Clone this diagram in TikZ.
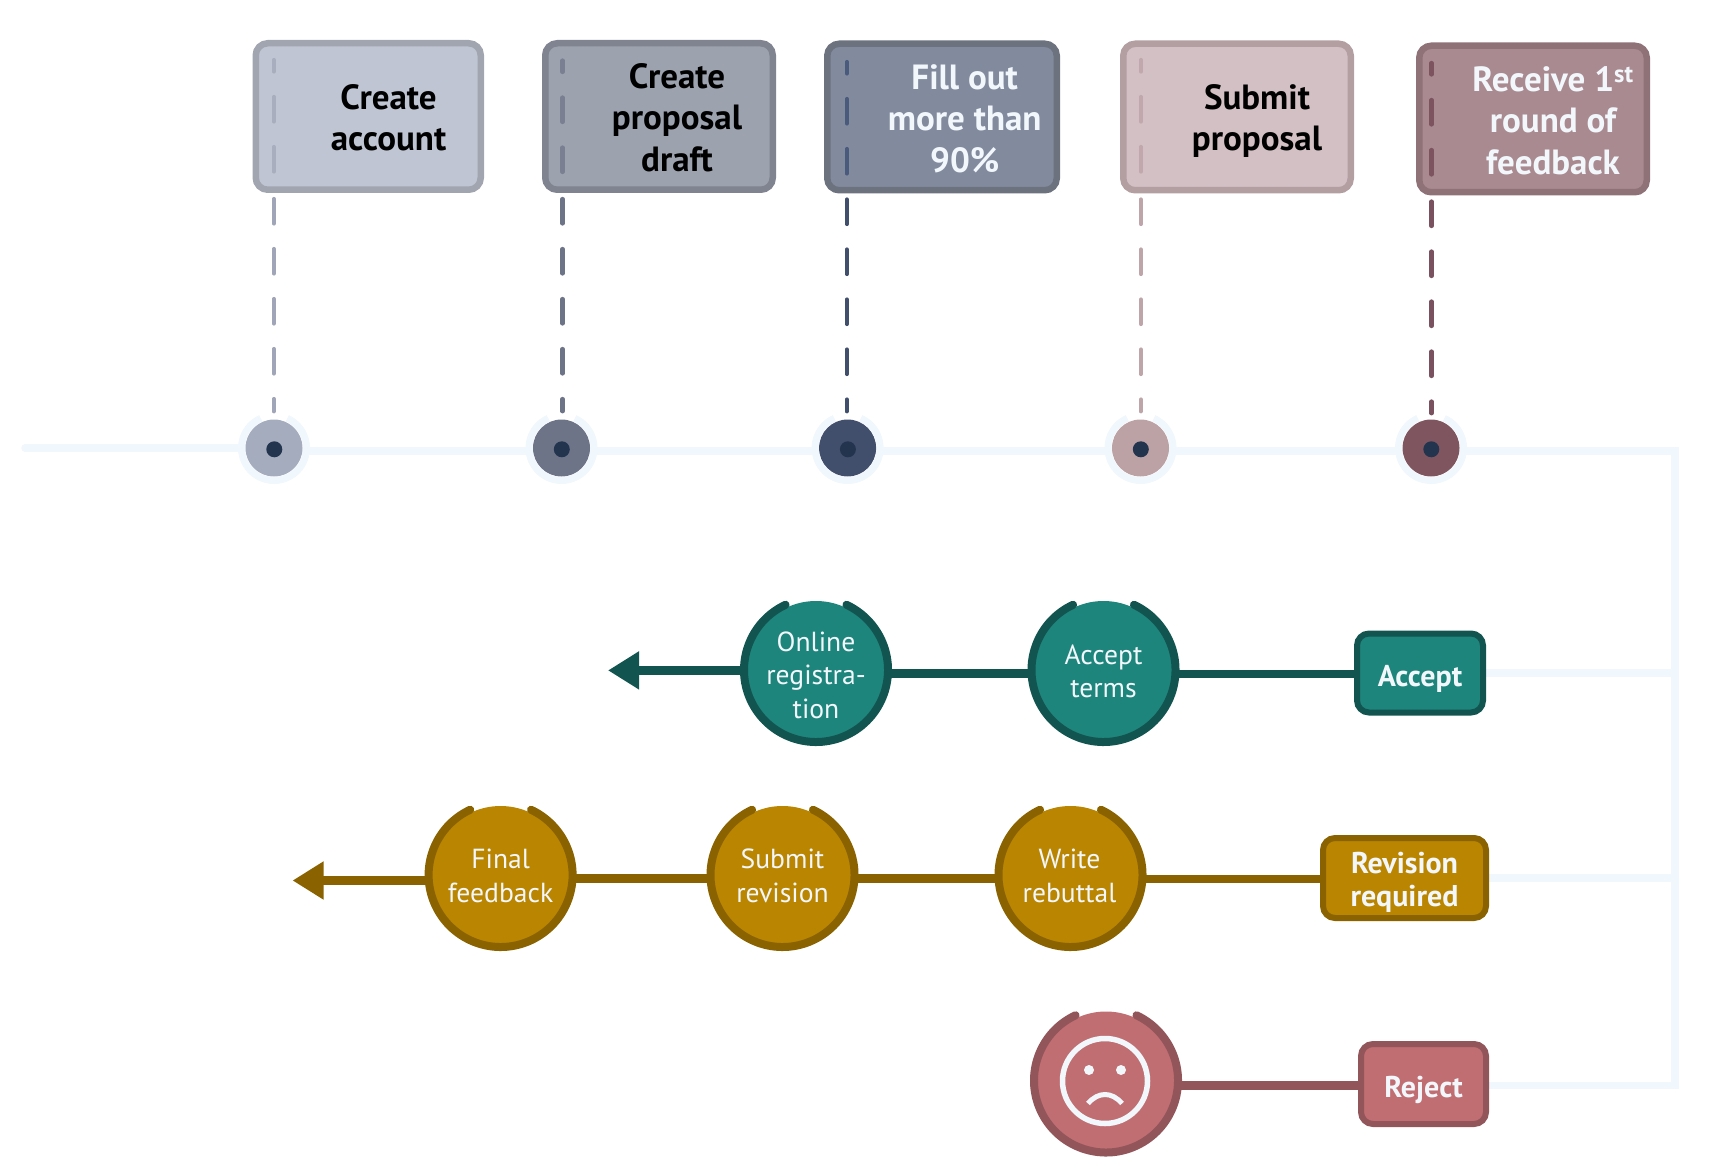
\documentclass[tikz,border=0pt]{standalone}
\usepackage{fontspec}
\setmainfont{PT Sans}
\usetikzlibrary{arrows.meta,backgrounds}
\definecolor{railblue}{HTML}{F0F7FD}
\definecolor{dotblue}{HTML}{23344F}
\definecolor{offwhite}{HTML}{F2F7FB}
\definecolor{tealfill}{HTML}{1D857C}
\definecolor{tealline}{HTML}{12544F}
\definecolor{goldfill}{HTML}{BA8500}
\definecolor{goldline}{HTML}{8A6200}
\definecolor{redfill}{HTML}{C06E72}
\definecolor{redline}{HTML}{91555A}
\definecolor{accountline}{HTML}{A1A5B0}
\definecolor{accountfill}{HTML}{C0C5D3}
\definecolor{accountpale}{HTML}{A9AEBF}
\definecolor{accountdash}{HTML}{A0A6B8}
\definecolor{accounthubc}{HTML}{A5ACBE}
\definecolor{draftline}{HTML}{808390}
\definecolor{draftfill}{HTML}{9CA2AE}
\definecolor{draftpale}{HTML}{7A8092}
\definecolor{drafthubc}{HTML}{6E7488}
\definecolor{fillline}{HTML}{6C727E}
\definecolor{fillfill}{HTML}{828B9E}
\definecolor{fillpale}{HTML}{4A5A7C}
\definecolor{fillhubc}{HTML}{414E6C}
\definecolor{submitline}{HTML}{B39FA2}
\definecolor{submitfill}{HTML}{D3C0C4}
\definecolor{submitpale}{HTML}{C0A8AC}
\definecolor{submitdash}{HTML}{BDA5AA}
\definecolor{submithubc}{HTML}{BDA2A5}
\definecolor{feedbackline}{HTML}{8E7278}
\definecolor{feedbackfill}{HTML}{A98A90}
\definecolor{feedbackpale}{HTML}{7D5360}
\definecolor{feedbackdash}{HTML}{7A515E}
\definecolor{feedbackhubc}{HTML}{7F5660}
\tikzset{
	stepbox/.style 2 args={draw=#1,fill=#2,line width=6.5pt,rounded corners=12pt,minimum width=227.5pt,minimum height=146.5pt,inner sep=0pt},
	steptext/.style={font=\bfseries\fontsize{35}{41.5}\selectfont,align=center,inner sep=0pt},
	guide/.style={draw=#1,line width=4.2pt,line cap=round,dash pattern=on 24.5pt off 25.5pt,dash phase=13pt},
	guidelow/.style={guide=#1,dash phase=44pt},
	hub/.style={circle,fill=#1,minimum size=57pt,inner sep=0pt},
	dot/.style={circle,fill=dotblue,minimum size=16pt,inner sep=0pt},
	rail/.style={draw=railblue,line width=7.5pt},
	flowcirc/.style={circle,fill=#1,minimum size=138pt,inner sep=0pt},
	circtext/.style={text=offwhite,align=center,inner sep=0pt,font=\fontsize{27.6}{33.5}\selectfont},
	flowbox/.style 2 args={draw=#1,fill=#2,line width=6pt,rounded corners=12pt,inner sep=0pt},
	boxtext/.style={text=offwhite,align=center,inner sep=0pt,font=\bfseries\fontsize{30}{33.5}\selectfont},
	flow/.style={draw=#1,line width=8.5pt},
}
\newcommand{\gaparc}[3]{\draw[draw=#2,line width=#3,line cap=round] ([shift={(115:72pt)}]#1.center) arc[start angle=115,end angle=425,radius=72pt];}
\newcommand{\halo}[1]{\draw[railblue,line width=7pt] ([shift={(114:32.5pt)}]#1.center) arc[start angle=114,end angle=426,radius=32.5pt];}

\begin{document}
\begin{tikzpicture}[x=1pt,y=1pt]
	\useasboundingbox (0,0) rectangle (1726,-1174);

	% top row
	\node (accountbox) [stepbox={accountline}{accountfill},minimum width=225pt,label={[steptext,xshift=20.3pt,yshift=-1.5pt]center:{Create\\account}}] at (368.25,-116.5) {};
	\node (draftbox) [stepbox={draftline}{draftfill},label={[steptext,xshift=18pt,yshift=-1pt]center:{Create\\proposal\\draft}}] at (659,-116.5) {};
	\node (fillbox) [stepbox={fillline}{fillfill},minimum width=229.5pt,label={[steptext,text=offwhite,xshift=22.7pt,yshift=-1.5pt]center:{Fill out\\more than\\90\%}}] at (942,-117) {};
	\node (submitbox) [stepbox={submitline}{submitfill},label={[steptext,xshift=20pt,yshift=-4pt]center:{Submit\\proposal}}] at (1237,-117) {};
	\node (feedbackbox) [stepbox={feedbackline}{feedbackfill},label={[steptext,text=offwhite,xshift=20pt,yshift=-1.5pt]center:{Receive 1\textsuperscript{st}\\round of\\feedback}}] at (1533,-119) {};

	\coordinate (accountpin) at (273.8,-60);
	\coordinate (draftpin) at (562.5,-60.5);
	\coordinate (fillpin) at (846.8,-62);
	\coordinate (submitpin) at (1140.8,-60);
	\coordinate (feedbackpin) at (1431.5,-63);

	\node (accounthub) [hub=accounthubc] at (274,-448) {};
	\node (drafthub) [hub=drafthubc] at (561.5,-448) {};
	\node (fillhub) [hub=fillhubc] at (847.6,-448) {};
	\node (submithub) [hub=submithubc] at (1140.5,-448) {};
	\node (feedbackhub) [hub=feedbackhubc] at (1431,-448) {};
	\halo{accounthub}
	\halo{drafthub}
	\halo{fillhub}
	\halo{submithub}
	\halo{feedbackhub}
	\node (accountdot) [dot] at (274.3,-449.3) {};
	\node (draftdot) [dot] at (561.8,-449.3) {};
	\node (filldot) [dot] at (847.9,-449.3) {};
	\node (submitdot) [dot] at (1140.8,-449.3) {};
	\node (feedbackdot) [dot] at (1431.3,-449.3) {};

	% dashes inside the boxes
	\draw[guide=accountpale] (accountpin) -- (accountpin |- accountbox.south);
	\draw[guide=draftpale] (draftpin) -- (draftpin |- draftbox.south);
	\draw[guide=fillpale] (fillpin) -- (fillpin |- fillbox.south);
	\draw[guide=submitpale] (submitpin) -- (submitpin |- submitbox.south);
	\draw[guide=feedbackpale] (feedbackpin) -- (feedbackpin |- feedbackbox.south);
	% dashes below the boxes
	\draw[guidelow=accountdash] (accountpin |- accountbox.south) -- ([yshift=8pt]accountpin |- accounthub.north);
	\draw[guidelow=drafthubc] (draftpin |- draftbox.south) -- ([yshift=8pt]draftpin |- drafthub.north);
	\draw[guidelow=fillhubc] (fillpin |- fillbox.south) -- ([yshift=8pt]fillpin |- fillhub.north);
	\draw[guidelow=submitdash] (submitpin |- submitbox.south) -- ([yshift=8pt]submitpin |- submithub.north);
	\draw[guidelow=feedbackdash] (feedbackpin |- feedbackbox.south) -- ([yshift=6pt]feedbackpin |- feedbackhub.north);

	% flow rows
	\node (acceptbox) [flowbox={tealline}{tealfill},minimum width=126pt,minimum height=79pt,label={[boxtext,yshift=-5.5pt]center:{Accept}}] at (1420,-673) {};
	\node (reviewbox) [flowbox={goldline}{goldfill},minimum width=163pt,minimum height=80pt,label={[boxtext,yshift=-4.5pt]center:{Revision\\required}}] at (1404.5,-878) {};
	\node (rejectbox) [flowbox={redline}{redfill},minimum width=125pt,minimum height=80pt,label={[boxtext,yshift=-5.5pt]center:{Reject}}] at (1423.5,-1084) {};

	\node (terms) [flowcirc=tealfill,label={[circtext,yshift=-1.5pt]center:{Accept\\terms}}] at (1103.5,-670) {};
	\node (online) [flowcirc=tealfill,label={[circtext,yshift=-5pt]center:{Online\\registra-\\tion}}] at (816,-670) {};
	\node (rebuttal) [flowcirc=goldfill,label={[circtext,xshift=-1pt,yshift=-1pt]center:{Write\\rebuttal}}] at (1070.5,-875) {};
	\node (revision) [flowcirc=goldfill,label={[circtext,yshift=-1pt]center:{Submit\\revision}}] at (782.5,-875) {};
	\node (final) [flowcirc=goldfill,label={[circtext,yshift=-1pt]center:{Final\\feedback}}] at (500.6,-875) {};
	\node (sad) [flowcirc=redfill] at (1106,-1080.5) {};
	\gaparc{terms}{tealline}{8pt}
	\gaparc{online}{tealline}{8pt}
	\gaparc{rebuttal}{goldline}{8pt}
	\gaparc{revision}{goldline}{8pt}
	\gaparc{final}{goldline}{8pt}
	\gaparc{sad}{redline}{8pt}

	% sad face
	\draw[offwhite,line width=5.5pt] ([shift={(-1,-0.5)}]sad.center) circle[radius=42.5pt];
	\fill[offwhite] ([shift={(-17,10.5)}]sad.center) circle[radius=5pt];
	\fill[offwhite] ([shift={(15,10.5)}]sad.center) circle[radius=5pt];
	\draw[offwhite,line width=5pt] ([shift={(-18,-23)}]sad.center) .. controls ([shift={(-8,-11)}]sad.center) and ([shift={(6,-11)}]sad.center) .. ([shift={(16,-23)}]sad.center);

	\coordinate (railstart) at (25,-448);
	\coordinate (railcorner) at (1675,-451);
	\coordinate (onlinetip) at (608,-670.4);
	\coordinate (finaltip) at (292.5,-880.5);

	\begin{scope}[on background layer]
		\draw[rail,line cap=round] (railstart) -- (railstart -| accounthub.center);
		\draw[rail] (accounthub.center |- railcorner) -- (railcorner) -- (railcorner |- 0,-1085.7) -- (rejectbox.east |- 0,-1085.7);
		\draw[rail] (acceptbox.east) -- (acceptbox.east -| railcorner);
		\draw[rail] (reviewbox.east) -- (reviewbox.east -| railcorner);

		\draw[flow=tealline] (acceptbox.west |- 0,-674) -- (terms.east |- 0,-674);
		\draw[flow=tealline] (terms.west |- 0,-673.5) -- (online.east |- 0,-673.5);
		\draw[flow=tealline,-{Triangle[length=31pt,width=36pt]}] (online.west |- onlinetip) -- (onlinetip);
		\draw[flow=goldline] (reviewbox.west |- 0,-879) -- (rebuttal.east |- 0,-879);
		\draw[flow=goldline] (rebuttal.west |- 0,-878.3) -- (revision.east |- 0,-878.3);
		\draw[flow=goldline] (revision.west |- 0,-878.3) -- (final.east |- 0,-878.3);
		\draw[flow=goldline,-{Triangle[length=31pt,width=36pt]}] (final.west |- finaltip) -- (finaltip);
		\draw[flow=redline] (rejectbox.west |- 0,-1085.6) -- (sad.east |- 0,-1085.6);
	\end{scope}
\end{tikzpicture}
\end{document}
